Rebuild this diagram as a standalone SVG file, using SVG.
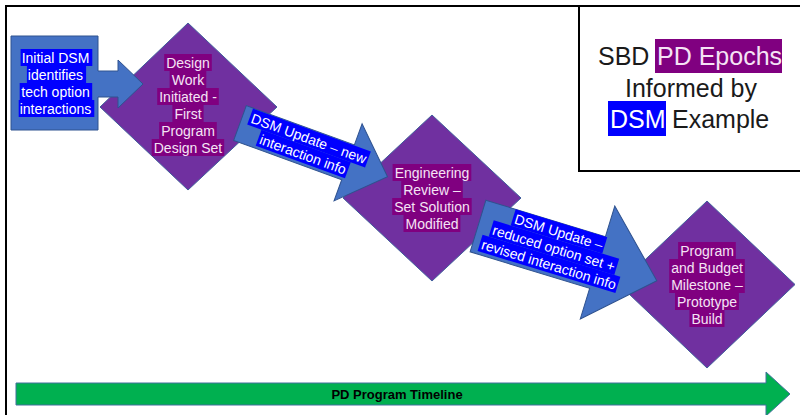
<svg xmlns="http://www.w3.org/2000/svg" width="800" height="415" viewBox="0 0 800 415">
<style>
text{font-family:"Liberation Sans",Arial,sans-serif;}
.lbl{font-size:14px;text-anchor:middle;}
.lp{fill:#f5e3f5;}
.lb{fill:#ffffff;}
.hp{fill:#800080;}
.hb{fill:#0000ff;}
.dia{fill:#7030a0;stroke:#41609c;stroke-width:1;}
.blk{fill:#4472c4;stroke:#2f528f;stroke-width:1;}
.title{font-size:25px;fill:#1a1a1a;}
</style>
<rect width="800" height="415" fill="#ffffff"/>
<path d="M6,415 V6 H800" fill="none" stroke="#000" stroke-width="2"/>

<g id="title">
<rect x="579" y="6" width="240" height="165" fill="#fff" stroke="#000" stroke-width="2"/>
<rect class="hp" x="655" y="39" width="127" height="34"/>
<rect class="hb" x="608" y="101" width="58" height="35"/>
<text class="title" y="65"><tspan x="598">SBD</tspan><tspan x="657" fill="#f5e3f5">PD Epochs</tspan></text>
<text class="title" x="691" y="97" text-anchor="middle">Informed by</text>
<text class="title" y="128"><tspan x="610" fill="#ffffff">DSM</tspan><tspan x="672">Example</tspan></text>
</g>

<g id="node-design">
<polygon class="dia" points="188,23 277,107 188,190 100,107"/>
<rect class="hp" x="164.2" y="54" width="47.6" height="17"/>
<rect class="hp" x="169.6" y="71" width="36.7" height="17"/>
<rect class="hp" x="157.2" y="88" width="61.6" height="17"/>
<rect class="hp" x="172.4" y="105" width="31.2" height="17"/>
<rect class="hp" x="159.1" y="122" width="57.7" height="17"/>
<rect class="hp" x="151.7" y="139" width="72.5" height="17"/>
<text class="lbl lp" x="188" y="68">Design</text>
<text class="lbl lp" x="188" y="85">Work</text>
<text class="lbl lp" x="188" y="102">Initiated -</text>
<text class="lbl lp" x="188" y="119">First</text>
<text class="lbl lp" x="188" y="136">Program</text>
<text class="lbl lp" x="188" y="153">Design Set</text>
</g>

<g id="node-review">
<polygon class="dia" points="432,115 521,198 432,281 343,198"/>
<rect class="hp" x="392.6" y="164" width="78.7" height="17"/>
<rect class="hp" x="401.2" y="181" width="61.6" height="17"/>
<rect class="hp" x="392.2" y="198" width="79.5" height="17"/>
<rect class="hp" x="403.5" y="215" width="56.9" height="17"/>
<text class="lbl lp" x="432" y="178">Engineering</text>
<text class="lbl lp" x="432" y="195">Review –</text>
<text class="lbl lp" x="432" y="212">Set Solution</text>
<text class="lbl lp" x="432" y="229">Modified</text>
</g>

<g id="node-milestone">
<polygon class="dia" points="707,201 795,284.5 707,368 619,284.5"/>
<rect class="hp" x="678.1" y="242" width="57.7" height="17"/>
<rect class="hp" x="669.2" y="259" width="75.6" height="17"/>
<rect class="hp" x="669.2" y="276" width="75.6" height="17"/>
<rect class="hp" x="675" y="293" width="63.9" height="17"/>
<rect class="hp" x="689.4" y="310" width="35.1" height="17"/>
<text class="lbl lp" x="707" y="256">Program</text>
<text class="lbl lp" x="707" y="273">and Budget</text>
<text class="lbl lp" x="707" y="290">Milestone –</text>
<text class="lbl lp" x="707" y="307">Prototype</text>
<text class="lbl lp" x="707" y="324">Build</text>
</g>

<g id="node-initial-dsm">
<polygon class="blk" points="11,36 98,36 98,71 118,71 118,60 143,84 118,108 118,97 98,97 98,130 11,130"/>
<rect class="hb" x="20.6" y="49" width="71.7" height="17"/>
<rect class="hb" x="26.9" y="66" width="59.2" height="17"/>
<rect class="hb" x="19.7" y="83" width="72.5" height="17"/>
<rect class="hb" x="18.7" y="100" width="75.6" height="17"/>
<text class="lbl lb" x="55.5" y="63">Initial DSM</text>
<text class="lbl lb" x="55.5" y="80">identifies</text>
<text class="lbl lb" x="55.5" y="97">tech option</text>
<text class="lbl lb" x="55.5" y="114">interactions</text>
</g>

<g id="connectors">
<g id="dsm-update-1" transform="translate(240,123) rotate(20)">
<polygon class="blk" points="0,-18.5 115,-18.5 115,-41 157,0 115,41 115,18.5 0,18.5"/>
<rect class="hb" x="7.3" y="-18" width="125.4" height="17"/>
<rect class="hb" x="22.5" y="-1" width="95" height="17"/>
<text class="lbl lb" x="70" y="-4">DSM Update – new</text>
<text class="lbl lb" x="70" y="13">interaction info</text>
</g>
<g id="dsm-update-2" transform="translate(478,226) rotate(17)">
<polygon class="blk" points="0,-27 125,-27 125,-59 187,0 125,59 125,27 0,27"/>
<rect class="hb" x="31.1" y="-27" width="95.8" height="17"/>
<rect class="hb" x="13.4" y="-10" width="131.2" height="17"/>
<rect class="hb" x="6.9" y="7" width="144.1" height="17"/>
<text class="lbl lb" x="79" y="-13">DSM Update –</text>
<text class="lbl lb" x="79" y="4">reduced option set +</text>
<text class="lbl lb" x="79" y="21">revised interaction info</text>
</g>
</g>

<g id="timeline">
<polygon points="16,383 766,383 766,372 790,394 766,416 766,405 16,405" fill="#00b050" stroke="#41719c" stroke-width="1"/>
<text x="397" y="398.5" text-anchor="middle" font-size="13" font-weight="bold" fill="#000">PD Program Timeline</text>
</g>
</svg>
